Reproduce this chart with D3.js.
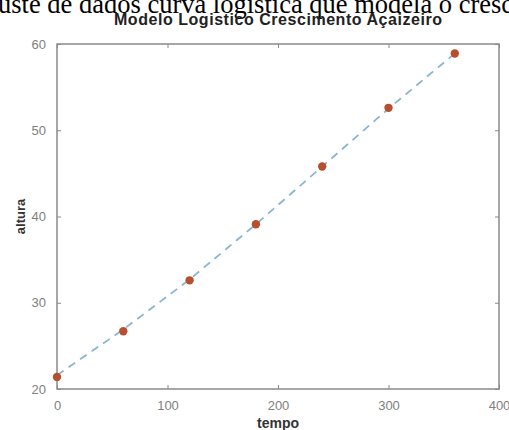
<!DOCTYPE html>
<html>
<head>
<meta charset="utf-8">
<script src="https://cdn.jsdelivr.net/npm/d3@7"></script>
<style>
  body { margin: 0; background: #fff; }
  svg { display: block; }
</style>
</head>
<body>
<div id="chart"></div>
<script>
// data
var tempo = [0, 60, 120, 180, 240, 300, 360];
var altura = [21.4, 26.7, 32.6, 39.1, 45.8, 52.6, 58.9];
// fitted logistic curve (dashed)
var fitTempo = [0, 60, 120, 180, 240, 300, 360];
var fitAltura = [21.6, 26.9, 32.7, 39.1, 45.8, 52.5, 58.9];
var xTicks = [0, 100, 200, 300, 400];
var yTicks = [20, 30, 40, 50, 60];

var W = 509, H = 430;
var margin = {top: 44, right: 10, bottom: 41, left: 57};
var width = W - margin.left - margin.right,
    height = H - margin.top - margin.bottom;

var svg = d3.select("#chart").append("svg")
  .attr("width", W)
  .attr("height", H);

// caption text cut off at top of the screenshot
svg.append("text")
  .attr("x", -2)
  .attr("y", 13)
  .attr("font-family", "Liberation Serif, Times New Roman, serif")
  .attr("font-size", 26.5)
  .attr("fill", "#000")
  .text("uste de dados curva logística que modela o cresc");

var g = svg.append("g")
  .attr("transform", "translate(" + margin.left + "," + margin.top + ")");

var x = d3.scaleLinear().domain([0, 400]).range([0, width]);
var y = d3.scaleLinear().domain([20, 60]).range([height, 0]);

// axes, MATLAB style: ticks pointing inward, box on
var axColor = "#8a8a8a";
function styleAxis(sel) {
  sel.select(".domain").remove();
  sel.selectAll(".tick line").attr("stroke", axColor).attr("stroke-width", 1);
  sel.selectAll(".tick text")
    .attr("fill", "#808080")
    .attr("font-family", "Liberation Sans, Arial, sans-serif")
    .attr("font-size", 13);
}

g.append("g")
  .attr("transform", "translate(0," + height + ")")
  .call(d3.axisBottom(x).tickValues(xTicks).tickSizeInner(-4).tickSizeOuter(0).tickPadding(12))
  .call(styleAxis);
g.append("g")
  .call(d3.axisTop(x).tickValues(xTicks).tickSizeInner(-4).tickSizeOuter(0))
  .call(styleAxis)
  .selectAll(".tick text").remove();
g.append("g")
  .call(d3.axisLeft(y).tickValues(yTicks).tickSizeInner(-4).tickSizeOuter(0).tickPadding(11))
  .call(styleAxis);
g.append("g")
  .attr("transform", "translate(" + width + ",0)")
  .call(d3.axisRight(y).tickValues(yTicks).tickSizeInner(-4).tickSizeOuter(0))
  .call(styleAxis)
  .selectAll(".tick text").remove();

g.append("rect")
  .attr("width", width)
  .attr("height", height)
  .attr("fill", "none")
  .attr("stroke", axColor)
  .attr("stroke-width", 1.5);

// fitted curve
var line = d3.line()
  .x(function(d, i) { return x(fitTempo[i]); })
  .y(function(d) { return y(d); });
g.append("path")
  .datum(fitAltura)
  .attr("d", line)
  .attr("fill", "none")
  .attr("stroke", "#8ab6cf")
  .attr("stroke-width", 1.8)
  .attr("stroke-dasharray", "8,6");

// data points
g.selectAll(".pt")
  .data(altura)
  .enter().append("circle")
  .attr("class", "pt")
  .attr("cx", function(d, i) { return x(tempo[i]); })
  .attr("cy", function(d) { return y(d); })
  .attr("r", 4.2)
  .attr("fill", "#b5502f");

// title and labels
svg.append("text")
  .attr("x", margin.left + width / 2)
  .attr("y", 25)
  .attr("text-anchor", "middle")
  .attr("font-family", "Liberation Sans, Arial, sans-serif")
  .attr("font-weight", "bold")
  .attr("font-size", 16)
  .attr("textLength", 328)
  .attr("lengthAdjust", "spacing")
  .attr("fill", "#222")
  .text("Modelo Logistico Crescimento Açaizeiro");

svg.append("text")
  .attr("x", margin.left + width / 2)
  .attr("y", 428)
  .attr("text-anchor", "middle")
  .attr("font-family", "Liberation Sans, Arial, sans-serif")
  .attr("font-weight", "bold")
  .attr("font-size", 14)
  .attr("fill", "#333")
  .text("tempo");

svg.append("text")
  .attr("transform", "translate(25," + (margin.top + height / 2) + ") rotate(-90)")
  .attr("text-anchor", "middle")
  .attr("font-family", "Liberation Sans, Arial, sans-serif")
  .attr("font-weight", "bold")
  .attr("font-size", 13)
  .attr("fill", "#333")
  .text("altura");
</script>
</body>
</html>
